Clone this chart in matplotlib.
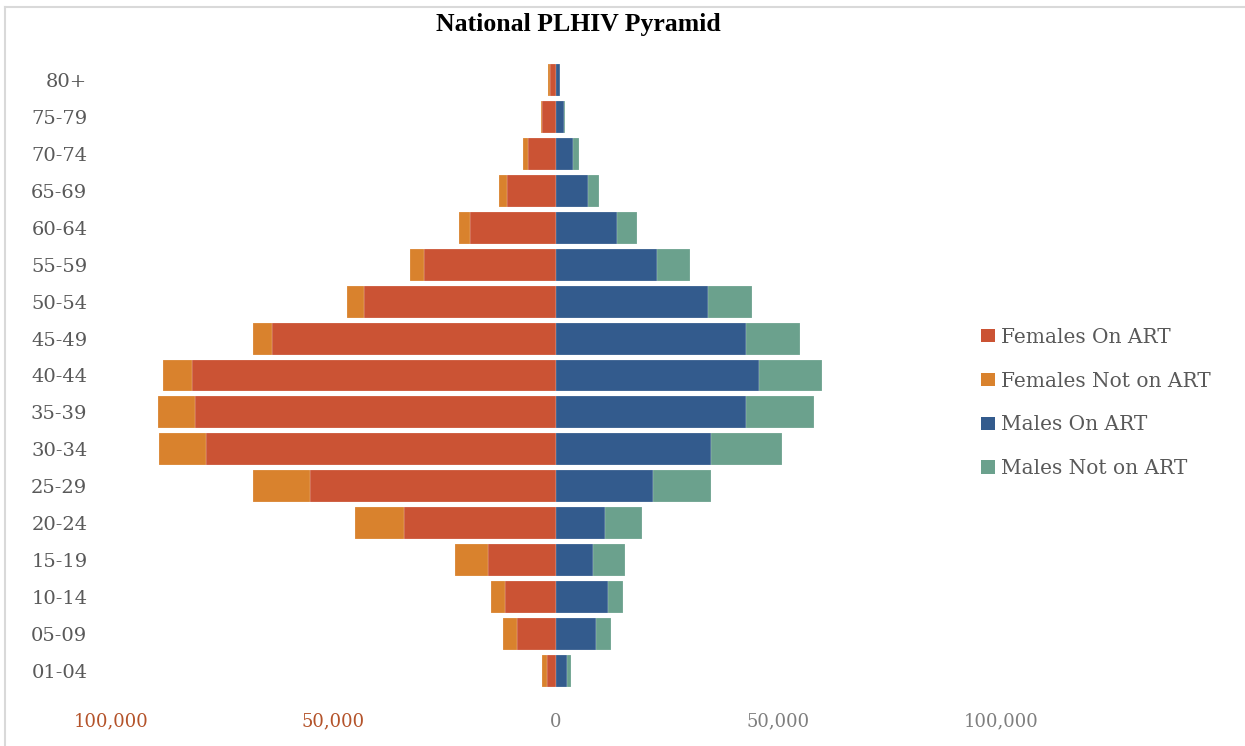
import matplotlib
matplotlib.use("Agg")
import matplotlib.pyplot as plt
import numpy as np
from matplotlib.lines import Line2D
from matplotlib.patches import Patch

# Age bands, youngest first (drawn bottom to top)
age_groups = ["01-04", "05-09", "10-14", "15-19", "20-24", "25-29", "30-34",
              "35-39", "40-44", "45-49", "50-54", "55-59", "60-64", "65-69",
              "70-74", "75-79", "80+"]

females_on_art = [2000, 8700, 11400, 15200, 34100, 55200, 78600, 81100, 81700,
                  63800, 43100, 29600, 19300, 10900, 6400, 3200, 1400]
females_not_on_art = [1050, 3100, 3100, 7500, 11100, 12800, 10700, 8300, 6600,
                      4200, 3800, 3100, 2400, 1800, 1050, 150, 300]
males_on_art = [2400, 9000, 11700, 8300, 11100, 21700, 34800, 42800, 45600,
                42800, 34200, 22700, 13800, 7300, 3800, 1700, 800]
males_not_on_art = [1000, 3400, 3400, 7200, 8300, 13100, 15900, 15200, 14100,
                    12000, 9900, 7300, 4500, 2400, 1400, 300, 200]

x_ticks = [-100000, -50000, 0, 50000, 100000]
x_tick_labels = ["100,000", "50,000", "0", "50,000", "100,000"]

series_labels = ["Females On ART", "Females Not on ART", "Males On ART", "Males Not on ART"]
colors = ["#CB5334", "#D9822D", "#335B8D", "#6BA18D"]

W, H = 1245, 746
fig = plt.figure(figsize=(W / 100, H / 100), dpi=100)
fig.patch.set_facecolor("white")

ax = fig.add_axes([111 / W, 1 - 689 / H, 890 / W, 627 / H])

y = np.arange(len(age_groups))
f_on = np.array(females_on_art)
f_not = np.array(females_not_on_art)
m_on = np.array(males_on_art)
m_not = np.array(males_not_on_art)

bh = 0.865
kw = dict(height=bh, edgecolor=(1, 1, 1, 0.45), linewidth=0.3)
ax.barh(y, -f_on, color=colors[0], **kw)
ax.barh(y, -f_not, left=-f_on, color=colors[1], **kw)
ax.barh(y, m_on, color=colors[2], **kw)
ax.barh(y, m_not, left=m_on, color=colors[3], **kw)

ax.set_xlim(-100000, 100000)
ax.set_ylim(-0.5, len(age_groups) - 0.5)

for s in ax.spines.values():
    s.set_visible(False)

ax.set_yticks(y)
ax.set_yticklabels(age_groups, fontsize=14, family="DejaVu Serif", color="#595959")
ax.tick_params(axis="y", length=0, pad=17)

ax.set_xticks(x_ticks)
ax.set_xticklabels(x_tick_labels, fontsize=13, family="DejaVu Serif")
ax.tick_params(axis="x", length=0, pad=17)
for lbl, v in zip(ax.get_xticklabels(), x_ticks):
    lbl.set_color("#B4532A" if v < 0 else "#7F7F7F")

fig.text(578 / W, 1 - 25 / H, "National PLHIV Pyramid", ha="center", va="center",
         fontsize=18.5, fontweight="bold", family="Liberation Serif", color="black")

handles = [Patch(facecolor=c, edgecolor="none") for c in colors]
leg = fig.legend(handles, series_labels, loc="center left",
                 bbox_to_anchor=(981 / W, 1 - 403 / H), bbox_transform=fig.transFigure,
                 frameon=False, borderpad=0, borderaxespad=0,
                 handlelength=0.68, handleheight=0.65, handletextpad=0.33,
                 labelspacing=1.23, prop={"family": "DejaVu Serif", "size": 14.5})
for t in leg.get_texts():
    t.set_color("#595959")

# Chart area border (top and left edges)
fig.add_artist(Line2D([5.5 / W, 1], [1 - 6.5 / H, 1 - 6.5 / H], transform=fig.transFigure,
                      color="#D9D9D9", linewidth=1.5))
fig.add_artist(Line2D([5.5 / W, 5.5 / W], [0, 1 - 6.5 / H], transform=fig.transFigure,
                      color="#D9D9D9", linewidth=1.5))

fig.savefig("out.png", dpi=100, facecolor="white")
